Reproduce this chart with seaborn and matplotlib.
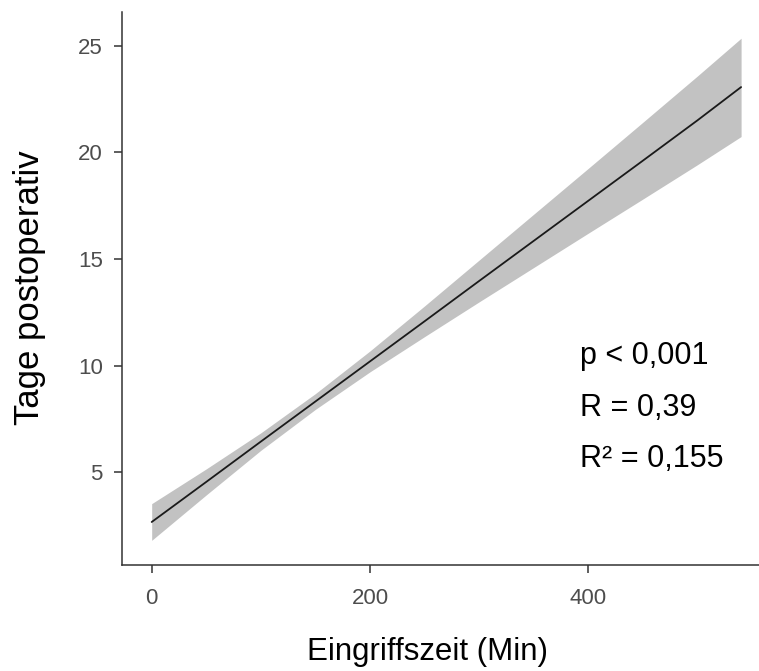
import matplotlib
matplotlib.use("Agg")
import matplotlib.pyplot as plt
import seaborn as sns
import pandas as pd

# ---- data ----
eingriffszeit = [0, 50, 100, 150, 200, 250, 300, 350, 400, 450, 500, 540]
fit_tage = [2.67, 4.55, 6.44, 8.32, 10.20, 12.08, 13.97, 15.85, 17.73, 19.61, 21.50, 23.06]
ci_lower = [1.81, 3.94, 6.03, 7.95, 9.71, 11.36, 12.99, 14.60, 16.21, 17.81, 19.42, 20.74]
ci_upper = [3.53, 5.16, 6.85, 8.69, 10.69, 12.80, 14.95, 17.10, 19.25, 21.41, 23.58, 25.35]
x_ticks = [0, 200, 400]
y_ticks = [5, 10, 15, 20, 25]
stats_lines = ["p < 0,001", "R = 0,39", "R\u00b2 = 0,155"]

sns.set_theme(style="white")
plt.rcParams["font.family"] = ["Liberation Sans", "DejaVu Sans"]

W, H = 759, 671
fig = plt.figure(figsize=(W / 100, H / 100), dpi=100)
ax = fig.add_axes([122 / W, 1 - 565 / H, (W - 122) / W, (565 - 12) / H])

df = pd.DataFrame({"x": eingriffszeit, "fit": fit_tage, "lo": ci_lower, "hi": ci_upper})
ax.fill_between(df["x"], df["lo"], df["hi"], color="#c2c2c2", linewidth=0, zorder=1)
sns.lineplot(data=df, x="x", y="fit", ax=ax, color="#1a1a1a", linewidth=1.3, zorder=2)

ax.set_xlim(-27.2, 556.4)
ax.set_ylim(0.654, 26.58)
ax.set_xticks(x_ticks)
ax.set_yticks(y_ticks)
ax.set_xlabel("")
ax.set_ylabel("")

for s in ["top", "right"]:
    ax.spines[s].set_visible(False)
for s in ["left", "bottom"]:
    ax.spines[s].set_color("#333333")
    ax.spines[s].set_linewidth(1.1)

ax.tick_params(axis="both", which="major", length=5.8, width=1.1, color="#333333",
               labelsize=16, labelcolor="#4d4d4d", direction="out",
               bottom=True, left=True)
ax.tick_params(axis="x", pad=11)
ax.tick_params(axis="y", pad=8)

fig.text(427 / W, 1 - 660 / H, "Eingriffszeit (Min)", fontsize=22.5, color="black",
         ha="center", va="baseline")
fig.text(13 / W, 1 - 287.5 / H, "Tage postoperativ", fontsize=25, color="black",
         rotation=90, ha="left", va="center")

for txt, yb in zip(stats_lines, [364, 416, 467]):
    fig.text(580 / W, 1 - yb / H, txt, fontsize=22, color="black", ha="left", va="baseline")

fig.savefig("out.png", dpi=100)
